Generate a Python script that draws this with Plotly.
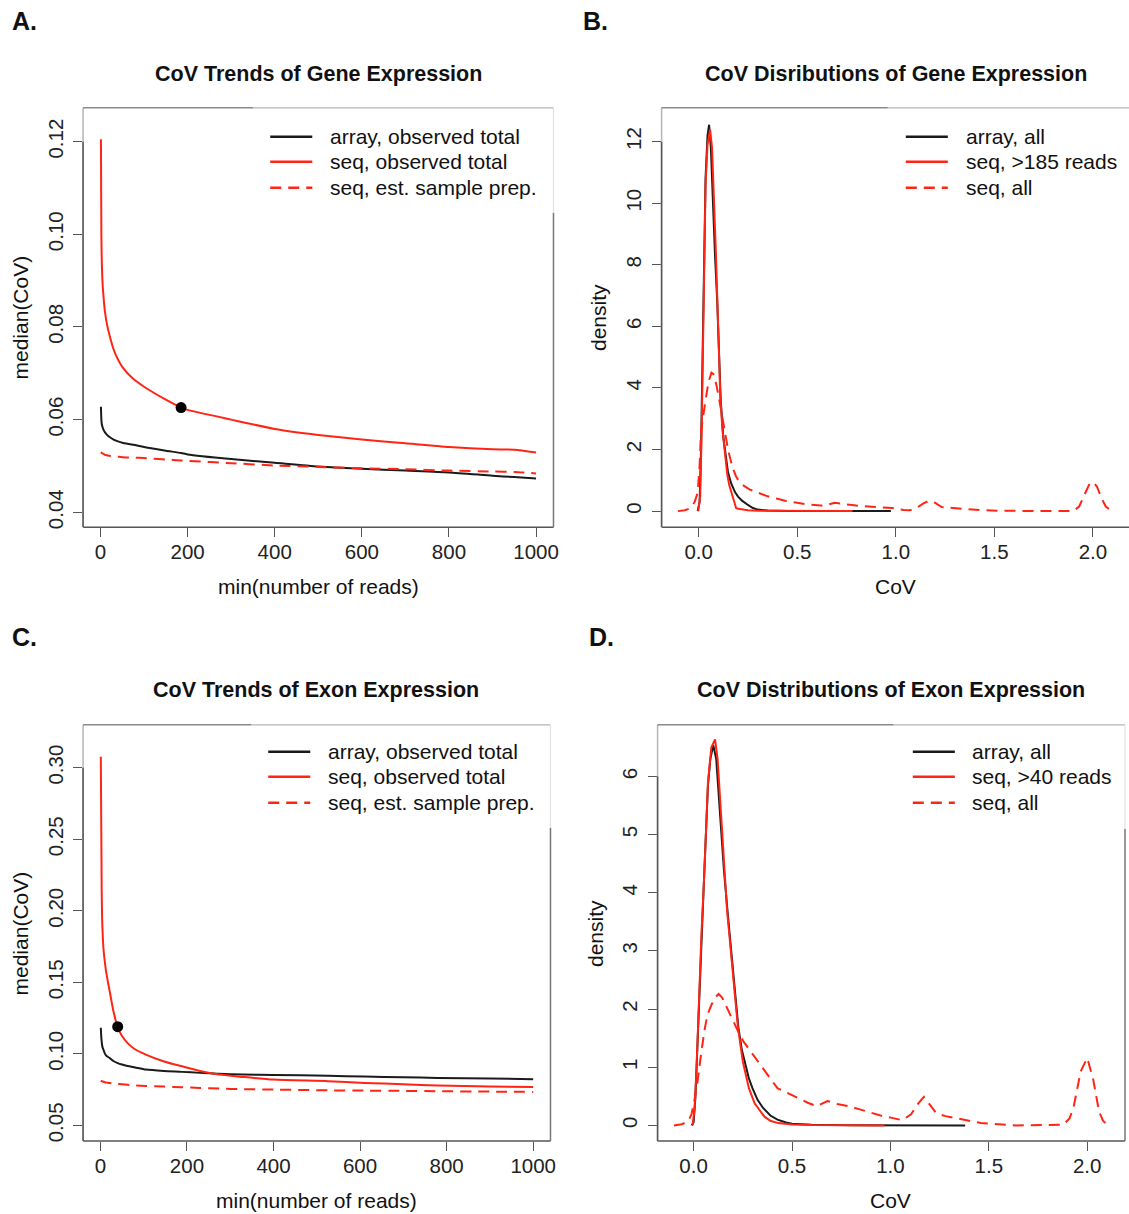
import plotly.graph_objects as go

REF_W, REF_H = 1129, 1214
# the rendered picture comes out ~0.55% narrower than the figure, so the
# figure is made slightly wider to compensate
W, H = 1135, 1214
RED = "#ff2414"
BLK = "#1a1a1a"
DASH = "11px,7px"

# ---------------- Panel A data (gene trends) ----------------
a_x = [1, 2, 3, 5, 7, 10, 15, 20, 30, 40, 50, 75, 100, 150, 185, 200, 300, 400, 500, 600, 700, 800, 900, 950, 1000]
a_seq_obs = [0.1205, 0.100, 0.094, 0.089, 0.0865, 0.0835, 0.0805, 0.0785, 0.0752, 0.0730, 0.0714, 0.0688, 0.0671, 0.0643, 0.0626, 0.0621, 0.0600, 0.0580, 0.0567, 0.0557, 0.0549, 0.0541, 0.0536, 0.0535, 0.0529]
a_arr_obs = [0.0628, 0.0600, 0.0590, 0.0583, 0.0578, 0.0573, 0.0567, 0.0563, 0.0557, 0.0553, 0.0550, 0.0546, 0.0541, 0.0533, 0.0528, 0.0525, 0.0515, 0.0507, 0.0499, 0.0494, 0.0490, 0.0486, 0.0479, 0.0476, 0.0473]
a_seq_prep = [0.0530, 0.0529, 0.0528, 0.0527, 0.0526, 0.0524, 0.0523, 0.0522, 0.0521, 0.0520, 0.0519, 0.0518, 0.0517, 0.0514, 0.0512, 0.0511, 0.0506, 0.0501, 0.0498, 0.0495, 0.0493, 0.0490, 0.0488, 0.0487, 0.0484]
a_point = (185, 0.0626)

# ---------------- Panel C data (exon trends) ----------------
c_x = [1, 2, 3, 4, 5, 7, 10, 13, 17, 21, 30, 40, 50, 63, 80, 105, 147, 189, 230, 274, 330, 400, 526, 610, 700, 779, 900, 1000]
c_seq_obs = [0.3077, 0.260, 0.215, 0.195, 0.186, 0.174, 0.165, 0.158, 0.151, 0.1445, 0.130, 0.1185, 0.1125, 0.1075, 0.1032, 0.0995, 0.0947, 0.0913, 0.0880, 0.0855, 0.0838, 0.0820, 0.0809, 0.0797, 0.0787, 0.0778, 0.0772, 0.0769]
c_arr_obs = [0.1182, 0.1120, 0.1085, 0.1060, 0.1045, 0.1030, 0.1005, 0.0990, 0.0980, 0.0972, 0.0950, 0.0935, 0.0925, 0.0915, 0.0905, 0.0890, 0.0880, 0.0874, 0.0867, 0.0860, 0.0856, 0.0852, 0.0847, 0.0841, 0.0837, 0.0832, 0.0827, 0.0823]
c_seq_prep = [0.0813, 0.0811, 0.0810, 0.0808, 0.0807, 0.0805, 0.0802, 0.0800, 0.0798, 0.0796, 0.0793, 0.0790, 0.0787, 0.0784, 0.0780, 0.0776, 0.0771, 0.0767, 0.0762, 0.0757, 0.0753, 0.0750, 0.0745, 0.0743, 0.0741, 0.0739, 0.0736, 0.0734]
c_point = (40, 0.119)

# ---------------- Panel B data (gene CoV densities) ----------------
b_arr_x = [-0.005, 0.005, 0.012, 0.02, 0.027, 0.035, 0.045, 0.053, 0.062, 0.072, 0.083, 0.094, 0.104, 0.112, 0.125, 0.138, 0.149, 0.165, 0.185, 0.2, 0.22, 0.25, 0.275, 0.3, 0.35, 0.45, 0.6, 0.8, 0.975]
b_arr_y = [0, 0.3, 2.0, 5.0, 8.3, 10.8, 12.2, 12.55, 11.8, 10.0, 8.3, 6.85, 5.0, 3.6, 2.4, 1.7, 1.26, 0.9, 0.61, 0.47, 0.34, 0.2, 0.1, 0.05, 0.02, 0.005, 0.002, 0.001, 0]
b_seq185_x = [-0.002, 0.008, 0.015, 0.021, 0.027, 0.035, 0.045, 0.058, 0.068, 0.078, 0.088, 0.096, 0.103, 0.11, 0.12, 0.13, 0.145, 0.155, 0.166, 0.178, 0.19, 0.2, 0.215, 0.25, 0.3, 0.4, 0.6, 0.78]
b_seq185_y = [0, 0.5, 2.5, 5.0, 8.3, 10.6, 11.9, 12.4, 11.8, 10.3, 8.3, 6.6, 5.0, 3.7, 2.7, 2.0, 1.2, 0.85, 0.6, 0.3, 0.1, 0.08, 0.06, 0.03, 0.01, 0.003, 0.001, 0]
b_seqall_x = [-0.105, -0.07, -0.04, -0.02, -0.005, 0.005, 0.012, 0.022, 0.035, 0.05, 0.065, 0.075, 0.09, 0.105, 0.121, 0.135, 0.149, 0.17, 0.19, 0.203, 0.23, 0.26, 0.293, 0.35, 0.4, 0.438, 0.5, 0.55, 0.618, 0.65, 0.69, 0.74, 0.8, 0.9, 0.98, 1.04, 1.07, 1.1, 1.14, 1.17, 1.2, 1.233, 1.3, 1.35, 1.43, 1.55, 1.7, 1.9, 1.93, 1.956, 1.98, 2.0, 2.02, 2.045, 2.065, 2.085]
b_seqall_y = [0, 0.03, 0.1, 0.3, 0.6, 1.5, 2.6, 3.1, 3.6, 4.2, 4.5, 4.45, 4.1, 3.6, 3.0, 2.5, 2.0, 1.45, 1.12, 0.99, 0.82, 0.7, 0.61, 0.48, 0.4, 0.34, 0.27, 0.22, 0.18, 0.2, 0.27, 0.23, 0.18, 0.13, 0.1, 0.04, 0.03, 0.08, 0.25, 0.34, 0.27, 0.13, 0.1, 0.07, 0.03, 0.01, 0.0, 0.0, 0.15, 0.5, 0.85, 0.95, 0.8, 0.4, 0.15, 0.05]

# ---------------- Panel D data (exon CoV densities) ----------------
d_arr_x = [-0.01, 0.0, 0.009, 0.018, 0.027, 0.036, 0.045, 0.055, 0.065, 0.073, 0.085, 0.1, 0.115, 0.13, 0.142, 0.154, 0.172, 0.2, 0.227, 0.245, 0.263, 0.28, 0.299, 0.325, 0.353, 0.39, 0.426, 0.47, 0.5, 0.6, 0.8, 1.0, 1.38]
d_arr_y = [0, 0.05, 0.47, 1.3, 2.19, 2.9, 3.56, 4.4, 5.2, 5.85, 6.3, 6.54, 6.3, 5.6, 4.9, 4.4, 3.7, 2.7, 1.7, 1.3, 1.04, 0.82, 0.64, 0.44, 0.3, 0.17, 0.1, 0.05, 0.03, 0.01, 0.003, 0.001, 0]
d_seq40_x = [-0.005, 0.005, 0.015, 0.027, 0.04, 0.054, 0.073, 0.09, 0.109, 0.122, 0.135, 0.15, 0.17, 0.2, 0.225, 0.25, 0.281, 0.31, 0.336, 0.36, 0.39, 0.43, 0.5, 0.6, 0.8, 0.97]
d_seq40_y = [0, 0.3, 1.0, 2.19, 3.3, 4.3, 5.9, 6.5, 6.64, 6.3, 5.6, 4.6, 3.7, 2.6, 1.7, 1.1, 0.64, 0.38, 0.25, 0.15, 0.08, 0.04, 0.015, 0.005, 0.001, 0]
d_seqall_x = [-0.1, -0.06, -0.027, -0.01, 0.005, 0.018, 0.035, 0.054, 0.07, 0.09, 0.11, 0.127, 0.145, 0.172, 0.2, 0.227, 0.254, 0.285, 0.316, 0.37, 0.426, 0.48, 0.534, 0.58, 0.626, 0.68, 0.73, 0.79, 0.84, 0.88, 0.95, 1.007, 1.06, 1.105, 1.14, 1.17, 1.2, 1.233, 1.28, 1.33, 1.4, 1.46, 1.55, 1.64, 1.877, 1.91, 1.93, 1.967, 2.0, 2.03, 2.06, 2.08, 2.1]
d_seqall_y = [0, 0.02, 0.07, 0.2, 0.45, 0.7, 1.15, 1.61, 1.9, 2.07, 2.2, 2.26, 2.2, 2.0, 1.8, 1.61, 1.44, 1.3, 1.16, 0.9, 0.64, 0.55, 0.47, 0.39, 0.33, 0.42, 0.37, 0.33, 0.28, 0.24, 0.17, 0.13, 0.09, 0.19, 0.37, 0.49, 0.35, 0.21, 0.16, 0.13, 0.08, 0.04, 0.02, 0.0, 0.01, 0.12, 0.3, 0.93, 1.16, 0.8, 0.24, 0.08, 0.02]

# ---------------- text ----------------
titles = ["CoV Trends of Gene Expression", "CoV Disributions of Gene Expression",
          "CoV Trends of Exon Expression", "CoV Distributions of Exon Expression"]
letters = ["A.", "B.", "C.", "D."]
trend_legend = ["array, observed total", "seq, observed total", "seq, est. sample prep."]
b_legend = ["array, all", "seq, >185 reads", "seq, all"]
d_legend = ["array, all", "seq, >40 reads", "seq, all"]
trend_xt = [0, 200, 400, 600, 800, 1000]
a_yt = [0.04, 0.06, 0.08, 0.10, 0.12]
c_yt = [0.05, 0.10, 0.15, 0.20, 0.25, 0.30]
dens_xt = [0.0, 0.5, 1.0, 1.5, 2.0]
b_yt = [0, 2, 4, 6, 8, 10, 12]
d_yt = [0, 1, 2, 3, 4, 5, 6]

FONT = "Liberation Sans, Arial, sans-serif"


def px(x):
    return min(1.0, x / REF_W)


def py(y):
    return 1 - y / REF_H


fig = go.Figure()


def add_line(x, y, ax, color, dash=None, width=2, spline=False):
    line = dict(color=color, width=width, dash=dash or "solid")
    if spline:
        line.update(shape="spline", smoothing=0.6)
    fig.add_trace(go.Scatter(x=x, y=y, mode="lines", xaxis=ax[0], yaxis=ax[1],
                             line=line, showlegend=False, hoverinfo="skip"))


# panel A
axA = ("x", "y")
add_line(a_x, a_arr_obs, axA, BLK, spline=True)
add_line(a_x, a_seq_obs, axA, RED, spline=True)
add_line(a_x, a_seq_prep, axA, RED, DASH, spline=True)
fig.add_trace(go.Scatter(x=[a_point[0]], y=[a_point[1]], mode="markers", xaxis="x", yaxis="y",
                         marker=dict(color="black", size=11), showlegend=False, hoverinfo="skip"))
# panel B
axB = ("x2", "y2")
add_line(b_arr_x, b_arr_y, axB, BLK)
add_line(b_seq185_x, b_seq185_y, axB, RED)
add_line(b_seqall_x, b_seqall_y, axB, RED, DASH)
# panel C
axC = ("x3", "y3")
add_line(c_x, c_arr_obs, axC, BLK, spline=True)
add_line(c_x, c_seq_obs, axC, RED, spline=True)
add_line(c_x, c_seq_prep, axC, RED, DASH, spline=True)
fig.add_trace(go.Scatter(x=[c_point[0]], y=[c_point[1]], mode="markers", xaxis="x3", yaxis="y3",
                         marker=dict(color="black", size=11), showlegend=False, hoverinfo="skip"))
# panel D
axD = ("x4", "y4")
add_line(d_arr_x, d_arr_y, axD, BLK)
add_line(d_seq40_x, d_seq40_y, axD, RED)
add_line(d_seqall_x, d_seqall_y, axD, RED, DASH)

AXC = "#555555"
tickfont = dict(family=FONT, size=20.5, color="#222")


def xax(domain, rng, tv, tt, anchor):
    return dict(domain=domain, range=rng, tickvals=tv, ticktext=tt, anchor=anchor,
                ticks="outside", ticklen=9, tickwidth=1.3, tickcolor=AXC,
                tickfont=tickfont, showgrid=False, zeroline=False, showline=False,
                ticklabelstandoff=-3)


def yax(domain, rng, tv, tt, anchor):
    return dict(domain=domain, range=rng, tickvals=tv, ticktext=tt, anchor=anchor,
                ticks="outside", ticklen=9, tickwidth=1.3, tickcolor=AXC, tickangle=-90,
                tickfont=tickfont, showgrid=False, zeroline=False, showline=False,
                ticklabelstandoff=2)


dA_x = [px(83), px(553)]
dA_y = [py(528), py(108)]
dB_x = [px(661), 1.0]
dC_x = [px(83), px(550)]
dC_y = [py(1143), py(726)]
dD_x = [px(657), px(1124)]

fig.update_layout(
    xaxis=xax(dA_x, [-40, 1040], trend_xt, [str(v) for v in trend_xt], "y"),
    yaxis=yax(dA_y, [0.0368, 0.1273], a_yt, ["%.2f" % v for v in a_yt], "x"),
    xaxis2=xax(dB_x, [-0.188, 2.188], dens_xt, ["%.1f" % v for v in dens_xt], "y2"),
    yaxis2=yax(dA_y, [-0.52, 13.1], b_yt, [str(v) for v in b_yt], "x2"),
    xaxis3=xax(dC_x, [-40, 1040], trend_xt, [str(v) for v in trend_xt], "y3"),
    yaxis3=yax(dC_y, [0.039, 0.330], c_yt, ["%.2f" % v for v in c_yt], "x3"),
    xaxis4=xax(dD_x, [-0.183, 2.192], dens_xt, ["%.1f" % v for v in dens_xt], "y4"),
    yaxis4=yax(dC_y, [-0.27, 6.89], d_yt, [str(v) for v in d_yt], "x4"),
)

shapes = []
DARK = "#555555"
LIGHT = "#b5b5b5"
VLIGHT = "#e2e2e2"
y_ranges = {"y": [0.0368, 0.1273], "y2": [-0.52, 13.1], "y3": [0.039, 0.330], "y4": [-0.27, 6.89]}


def frame(xs, ys, top_split, right_split, top_tick, right=True):
    xr, yr = xs + " domain", ys + " domain"
    shapes.append(dict(type="line", xref=xr, yref=yr, x0=0, x1=1, y0=0, y1=0, line=dict(color=DARK, width=1.5)))
    shapes.append(dict(type="line", xref=xr, yref=yr, x0=0, x1=0, y0=0, y1=1, line=dict(color=LIGHT, width=1.5)))
    shapes.append(dict(type="line", xref=xr, yref=ys, x0=0, x1=0, y0=y_ranges[ys][0], y1=top_tick,
                       line=dict(color=DARK, width=1.5)))
    shapes.append(dict(type="line", xref=xr, yref=yr, x0=0, x1=top_split, y0=1, y1=1, line=dict(color="#8a8a8a", width=1.5)))
    shapes.append(dict(type="line", xref=xr, yref=yr, x0=top_split, x1=1, y0=1, y1=1, line=dict(color=LIGHT, width=1.2)))
    if right:
        shapes.append(dict(type="line", xref=xr, yref=yr, x0=1, x1=1, y0=0, y1=right_split, line=dict(color="#777777", width=1.5)))
        shapes.append(dict(type="line", xref=xr, yref=yr, x0=1, x1=1, y0=right_split, y1=1, line=dict(color=VLIGHT, width=1.2)))


frame("x", "y", 0.362, 0.75, 0.12)
frame("x2", "y2", 0.483, 0.75, 12, right=False)
frame("x3", "y3", 0.36, 0.753, 0.30)
frame("x4", "y4", 0.505, 0.75, 6)

annotations = []


def text(x, y, t, size=21, bold=False, angle=0, xanchor="center", yanchor="middle", family=FONT):
    annotations.append(dict(x=px(x), y=py(y), xref="paper", yref="paper", text=("<b>%s</b>" % t) if bold else t,
                            showarrow=False, xanchor=xanchor, yanchor=yanchor, textangle=angle,
                            font=dict(family=family, size=size, color="#111")))


for t, (x, y) in zip(letters, [(10, 21), (580, 21), (10, 638), (586, 638)]):
    text(x, y, t, size=25, bold=True, xanchor="left")
for t, (x, y) in zip(titles, [(318, 74), (895, 74), (316, 691), (890, 691)]):
    text(x, y, t, size=21.5, bold=True)
text(318, 587, "min(number of reads)")
text(895, 587, "CoV")
text(316, 1202, "min(number of reads)")
text(890, 1202, "CoV")
text(20, 318, "median(CoV)", angle=-90)
text(598, 318, "density", angle=-90)
text(20, 935, "median(CoV)", angle=-90)
text(595, 935, "density", angle=-90)


def legend(x_line, x_text, ys, labels):
    styles = [(BLK, "solid"), (RED, "solid"), (RED, DASH)]
    for (c, d), y, lab in zip(styles, ys, labels):
        shapes.append(dict(type="line", xref="paper", yref="paper", x0=px(x_line), x1=px(x_line + 42),
                           y0=py(y), y1=py(y), line=dict(color=c, width=2.5, dash=d)))
        text(x_text, y, lab, xanchor="left")


legend(270, 328, [137, 162, 188], trend_legend)
legend(905, 963, [137, 162, 188], b_legend)
legend(268, 326, [753, 778, 804], trend_legend)
legend(912, 969, [753, 778, 804], d_legend)

fig.update_layout(width=W, height=H, margin=dict(l=0, r=0, t=0, b=0),
                  paper_bgcolor="white", plot_bgcolor="white",
                  shapes=shapes, annotations=annotations, showlegend=False,
                  font=dict(family=FONT))

# remove the default 8px page margin so the figure fills the window exactly
fig.write_html("out.html", config={"displayModeBar": False},
               post_script="document.body.style.margin='0px';document.body.style.overflow='hidden';")
